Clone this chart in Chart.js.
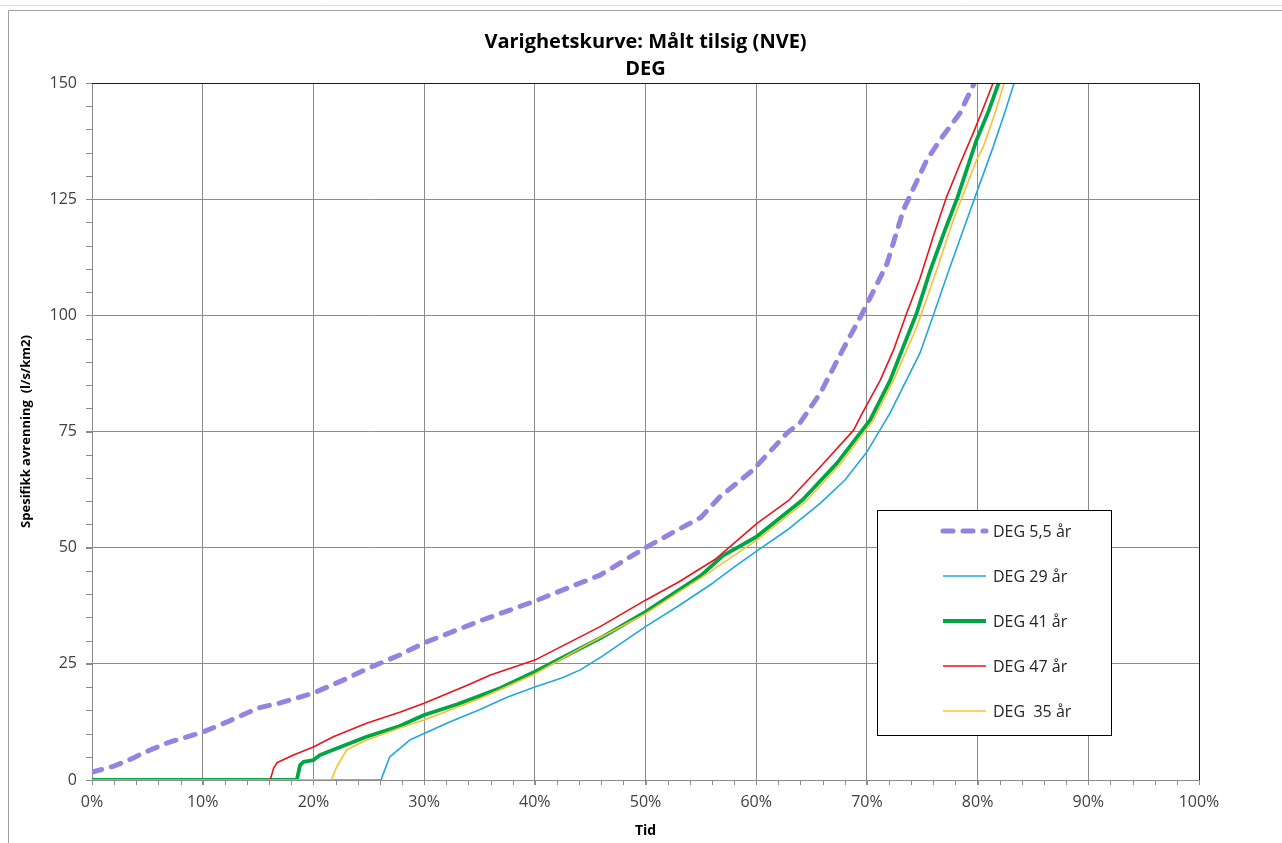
<!DOCTYPE html>
<html>
<head>
<meta charset="utf-8">
<title>Varighetskurve DEG</title>
<script src="https://cdn.jsdelivr.net/npm/chart.js@4.4.1/dist/chart.umd.min.js"></script>
<style>
  html, body { margin: 0; padding: 0; background: #fff; }
  #wrap { position: relative; width: 1282px; height: 843px; }
</style>
</head>
<body>
<div id="wrap"><canvas id="grafico" width="1282" height="843"></canvas></div>
<script>
// --- Verdier lest av figuren (Tid i %, spesifikk avrenning i l/s/km2) ---
const xTickStep = 10;
const yTickStep = 25;

const deg55Tid = [0, 2, 3.7, 4.6, 6.8, 10, 12.2, 15, 17, 20, 22.7, 25, 27.8, 30, 35, 40, 45.9, 50, 52.5, 55, 56.7,
  59.7, 62.8, 64, 65.8, 67.8, 69.6, 70.5, 71.8, 73.3, 75.4, 76.6, 78.4, 79.7];
const deg55Q = [1.7, 3.0, 4.7, 5.8, 8.0, 10.3, 12.5, 15.5, 16.6, 18.7, 21.5, 24.1, 26.9, 29.5, 34.2, 38.5, 44.1, 50, 53.3, 56.5, 60.9,
  66.7, 74.7, 77, 83.3, 92.5, 100.5, 104.8, 111, 122.7, 133.4, 137.7, 143.5, 150];

const deg29Tid = [0, 26.1, 26.5, 26.9, 28.7, 30.1, 32.3, 35, 37.5, 40, 42.5, 44.1, 46, 50, 53, 56.1, 58, 60, 62.8, 65.8, 68,
  70, 72.1, 74.8, 76, 77.3, 78.5, 80, 81.4, 82.5, 83.3];
const deg29Q = [0, 0, 2.5, 5.0, 8.6, 10.1, 12.5, 15.1, 17.8, 20, 22, 23.7, 26.5, 33, 37.5, 42.4, 45.8, 49.2, 53.8, 59.6, 64.5,
  70.6, 79, 91.9, 100, 109, 117, 127, 136.2, 144, 150];

const deg41Tid = [0, 18.5, 18.8, 19.1, 20, 20.6, 21.8, 24.8, 27.8, 30, 33, 36.9, 40, 45.9, 50, 55, 57, 60, 64.2, 67.3, 70.3,
  72.1, 73, 74.5, 75.7, 77, 78.2, 79.9, 81, 81.9];
const deg41Q = [0, 0, 3.2, 3.9, 4.3, 5.4, 6.5, 9.3, 11.6, 14, 16.3, 19.8, 23.3, 30.5, 36.2, 44, 48.3, 52.3, 60.3, 68.2, 77.5,
  86, 91.5, 100.5, 109.5, 118, 125.5, 137.7, 144, 150];

const deg47Tid = [0, 16.1, 16.4, 16.7, 18.2, 20, 21.8, 24.8, 27.8, 30, 33.9, 36, 40, 45.9, 50, 53, 56.3, 60.1, 63, 65.8, 68.8,
  69.6, 71.2, 72.4, 73.6, 74.8, 76, 77.2, 78.4, 79.6, 80.5, 81.4];
const deg47Q = [0, 0, 2.5, 3.7, 5.4, 7.1, 9.3, 12.2, 14.6, 16.5, 20.4, 22.6, 25.8, 33, 38.7, 42.6, 47.5, 55.3, 60.3, 67.4, 75.3,
  79, 86, 92.5, 100.5, 108, 117, 125.5, 132.5, 139.2, 144.5, 150];

const deg35Tid = [0, 21.6, 22.1, 23, 24.8, 27.8, 30, 35, 40, 45, 50, 55, 60, 64.5, 67.6, 70.6, 72.4, 74.5, 76.3, 77.8,
  79.9, 80.5, 81.5, 82.4];
const deg35Q = [0, 0, 2.8, 6.5, 8.6, 11.2, 12.9, 17.5, 22.8, 29.5, 35.8, 43.5, 51.5, 60, 68, 77.5, 86, 97.5, 109.7, 120.5,
  133.4, 136.2, 143, 150];

const seriesLabels = ['DEG 5,5 år', 'DEG 29 år', 'DEG 41 år', 'DEG 47 år', 'DEG  35 år'];

const toPoints = (xs, ys) => xs.map((x, i) => ({ x: x, y: ys[i] }));

// Mindre tikker (hver 2 % og hver 5 l/s/km2), rammer og legende tegnes her
const extrasPlugin = {
  id: 'extras',
  beforeDraw(chart) {
    const ctx = chart.ctx;
    ctx.save();
    ctx.strokeStyle = '#dcdcdc';
    ctx.lineWidth = 1;
    ctx.beginPath();
    ctx.moveTo(0, 5.5); ctx.lineTo(1282, 5.5);
    ctx.stroke();
    ctx.strokeStyle = '#a0a0a0';
    ctx.beginPath();
    ctx.moveTo(8.5, 843); ctx.lineTo(8.5, 10.5); ctx.lineTo(1282, 10.5);
    ctx.stroke();
    ctx.restore();
  },
  afterDraw(chart) {
    const ctx = chart.ctx;
    const xs = chart.scales.x, ys = chart.scales.y;
    const area = chart.chartArea;
    ctx.save();
    ctx.strokeStyle = '#8c8c8c';
    ctx.lineWidth = 1;
    ctx.beginPath();
    for (let v = 0; v <= 100; v += 2) {
      const px = Math.round(xs.getPixelForValue(v)) + 0.5;
      ctx.moveTo(px, area.bottom); ctx.lineTo(px, area.bottom + 5);
    }
    for (let v = 0; v <= 150; v += 5) {
      const py = Math.round(ys.getPixelForValue(v)) + 0.5;
      ctx.moveTo(area.left - 6, py); ctx.lineTo(area.left, py);
    }
    ctx.stroke();

    // topp- og høyrekant av plotteområdet
    ctx.strokeStyle = '#1a1a1a';
    ctx.beginPath();
    ctx.moveTo(area.left, Math.round(area.top) + 0.5);
    ctx.lineTo(Math.round(area.right) + 0.5, Math.round(area.top) + 0.5);
    ctx.lineTo(Math.round(area.right) + 0.5, area.bottom);
    ctx.stroke();

    // legende
    const box = { x: 877.5, y: 510.5, w: 234, h: 225 };
    ctx.fillStyle = '#fff';
    ctx.fillRect(box.x, box.y, box.w, box.h);
    ctx.strokeStyle = '#000';
    ctx.strokeRect(box.x, box.y, box.w, box.h);
    ctx.font = '16px "Open Sans", sans-serif';
    ctx.textBaseline = 'middle';
    ctx.textAlign = 'left';
    chart.data.datasets.forEach((ds, i) => {
      const cy = 531 + i * 45;
      ctx.save();
      ctx.strokeStyle = ds.borderColor;
      ctx.lineWidth = ds.borderWidth;
      ctx.lineCap = ds.borderCapStyle || 'butt';
      ctx.setLineDash(ds.borderDash || []);
      ctx.beginPath();
      ctx.moveTo(943, cy); ctx.lineTo(986, cy);
      ctx.stroke();
      ctx.restore();
      ctx.fillStyle = '#262626';
      ctx.fillText(ds.label, 993, cy + 1);
    });
    ctx.restore();
  }
};

const datasets = [
  { label: seriesLabels[0], data: toPoints(deg55Tid, deg55Q), borderColor: '#9483e0', borderWidth: 5,
    borderDash: [10, 10], borderCapStyle: 'round', order: 4 },
  { label: seriesLabels[1], data: toPoints(deg29Tid, deg29Q), borderColor: '#1fa8dc', borderWidth: 1.6, order: 3 },
  { label: seriesLabels[2], data: toPoints(deg41Tid, deg41Q), borderColor: '#00a546', borderWidth: 3.8, order: 2 },
  { label: seriesLabels[3], data: toPoints(deg47Tid, deg47Q), borderColor: '#e8141c', borderWidth: 1.6, order: 1 },
  { label: seriesLabels[4], data: toPoints(deg35Tid, deg35Q), borderColor: '#fbc02d', borderWidth: 1.6, order: 0 }
];
datasets.forEach(d => { d.fill = false; d.pointRadius = 0; d.tension = 0; d.borderJoinStyle = 'round'; });

const tickFont = { family: '"Open Sans", sans-serif', size: 16 };

new Chart(document.getElementById('grafico'), {
  type: 'line',
  data: { datasets: datasets },
  options: {
    responsive: false,
    animation: false,
    devicePixelRatio: 1,
    layout: { padding: { left: 0, right: 83, top: 0, bottom: 0 } },
    plugins: {
      legend: { display: false },
      tooltip: { enabled: false },
      title: {
        display: true,
        fullSize: false,
        text: ['Varighetskurve: Målt tilsig (NVE)', 'DEG'],
        color: '#000',
        font: { family: '"Open Sans", sans-serif', size: 20, weight: 'bold', lineHeight: '27px' },
        padding: { top: 29, bottom: 0 }
      }
    },
    scales: {
      x: {
        type: 'linear',
        min: 0, max: 100,
        afterFit: s => { s.height = 63; },
        ticks: {
          stepSize: xTickStep, autoSkip: false, maxRotation: 0, padding: 8,
          color: '#404040', font: tickFont,
          callback: v => v + '%'
        },
        grid: { color: '#8c8c8c', lineWidth: 1, tickLength: 5 },
        border: { color: '#8c8c8c' },
        title: { display: true, text: 'Tid', color: '#000',
          font: { family: '"Open Sans", sans-serif', size: 14, weight: 'bold' }, padding: { top: 0, bottom: 4 } }
      },
      y: {
        type: 'linear',
        min: 0, max: 150,
        afterFit: s => { s.width = 92; },
        ticks: { stepSize: yTickStep, padding: 9, color: '#404040', font: tickFont },
        grid: { color: '#8c8c8c', lineWidth: 1, tickLength: 6 },
        border: { color: '#8c8c8c' },
        title: { display: true, text: 'Spesifikk avrenning  (l/s/km2)', color: '#000',
          font: { family: '"Open Sans", sans-serif', size: 13, weight: 'bold' }, padding: { top: 18, bottom: 0 } }
      }
    }
  },
  plugins: [extrasPlugin]
});
</script>
</body>
</html>
